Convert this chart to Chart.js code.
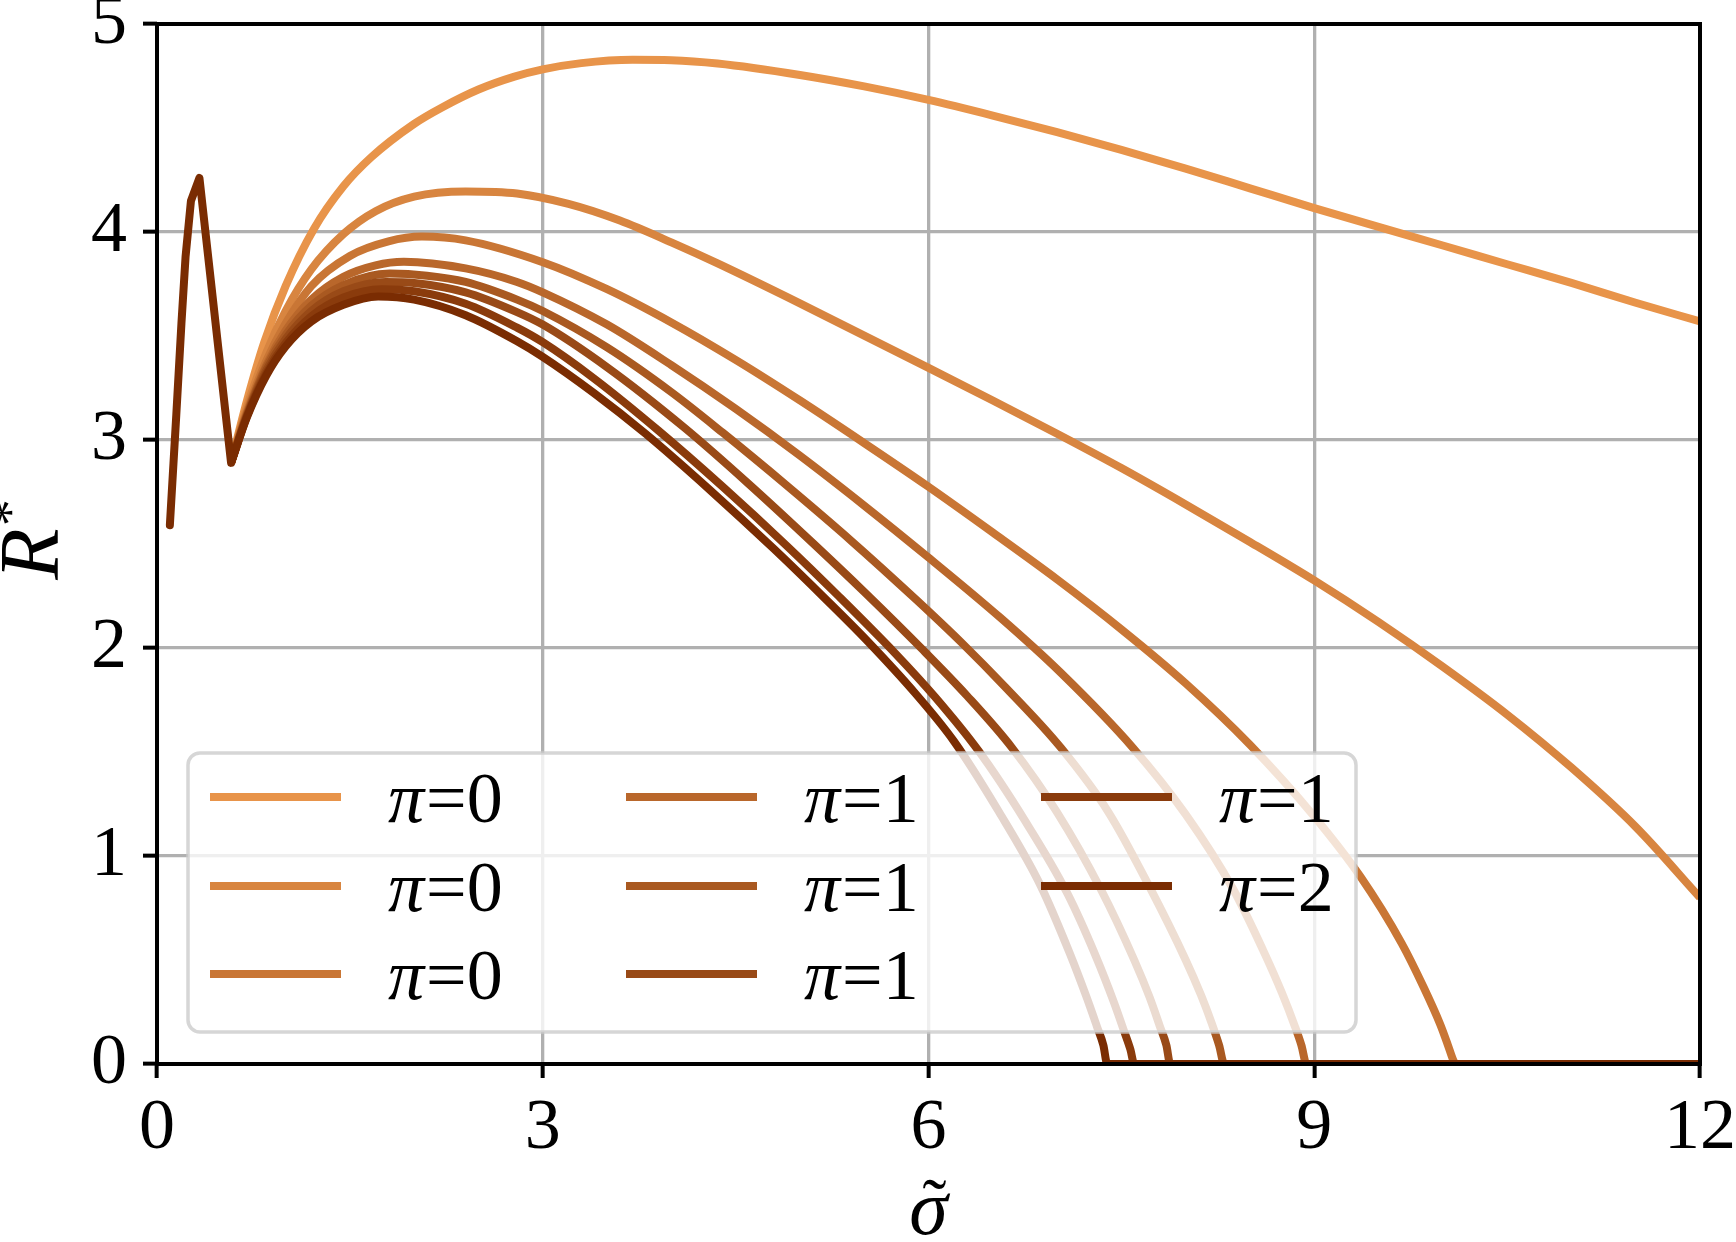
<!DOCTYPE html>
<html>
<head>
<meta charset="utf-8">
<script src="https://cdn.jsdelivr.net/npm/chart.js@4.4.0/dist/chart.umd.min.js"></script>
<style>
  html, body { margin: 0; padding: 0; background: #fff; }
</style>
</head>
<body>
<canvas id="rChart" width="1736" height="1242"></canvas>
<script>
// axis ticks
const sigmaTicks = [0, 3, 6, 9, 12];
const rTicks = [0, 1, 2, 3, 4, 5];

// legend labels, one per curve (light -> dark)
const curveLabels = ['π=0', 'π=0', 'π=0', 'π=1', 'π=1', 'π=1', 'π=1', 'π=2'];
const curveColors = ['#e8944a', '#d88540', '#c97635', '#b9672b', '#a95921', '#994a17', '#8a3b0c', '#7a2c02'];

// shared start of every curve (sigma, R*), same for all eight
const spike = [[0.1, 2.59], [0.15, 3.12], [0.19, 3.56], [0.222, 3.88], [0.264, 4.15], [0.33, 4.26], [0.576, 2.89]];

// rest of each curve (sigma, R*), starting at the bottom of the spike
const tail1 = [[0.576, 2.89], [0.7, 3.19], [0.834, 3.47], [1.0, 3.74], [1.22, 4.015], [1.45, 4.22], [1.667, 4.36], [2.0, 4.52],
  [2.22, 4.60], [2.5, 4.685], [2.78, 4.747], [3.0, 4.782], [3.3, 4.812], [3.7, 4.828], [4.0, 4.826], [4.36, 4.81], [5.0, 4.755],
  [5.5, 4.70], [6.0, 4.635], [6.5, 4.56], [7.0, 4.48], [7.5, 4.395], [8.0, 4.305], [8.5, 4.21], [9.0, 4.115], [9.5, 4.025],
  [10.0, 3.935], [10.5, 3.845], [11.0, 3.755], [11.5, 3.66], [12.0, 3.57]];
const tail2 = [[0.576, 2.89], [0.7, 3.16], [0.85, 3.42], [1.0, 3.62], [1.2, 3.82], [1.45, 3.99], [1.7, 4.10], [2.0, 4.17],
  [2.4, 4.195], [2.8, 4.185], [3.2, 4.135], [3.6, 4.055], [4.0, 3.95], [4.36, 3.849], [5.0, 3.657], [5.5, 3.502], [6.0, 3.347],
  [6.5, 3.19], [7.0, 3.03], [7.5, 2.865], [8.0, 2.69], [8.5, 2.51], [9.0, 2.325], [9.5, 2.125], [10.0, 1.91], [10.5, 1.68],
  [11.0, 1.425], [11.5, 1.14], [12.0, 0.80]];
const tail3 = [[0.576, 2.89], [0.7, 3.14], [0.85, 3.38], [1.0, 3.56], [1.2, 3.74], [1.5, 3.885], [1.8, 3.955], [2.06, 3.978],
  [2.4, 3.96], [3.0, 3.855], [3.5, 3.725], [4.0, 3.565], [4.5, 3.385], [5.0, 3.19], [5.5, 2.985], [6.0, 2.775], [6.5, 2.555],
  [7.0, 2.33], [7.5, 2.09], [8.0, 1.83], [8.5, 1.535], [9.0, 1.19], [9.36, 0.9], [9.68, 0.58], [9.85, 0.37], [9.98, 0.19],
  [10.04, 0.09], [10.08, 0.02], [10.1, 0], [12.0, 0]];
const tail4 = [[0.576, 2.89], [0.7, 3.13], [0.85, 3.36], [1.0, 3.525], [1.2, 3.675], [1.45, 3.785], [1.7, 3.84], [1.92, 3.857],
  [2.4, 3.825], [2.8, 3.76], [3.0, 3.71], [3.5, 3.555], [4.0, 3.36], [4.5, 3.15], [5.0, 2.925], [5.5, 2.685], [6.0, 2.435],
  [6.56, 2.145], [7.03, 1.88], [7.59, 1.52], [8.0, 1.2], [8.37, 0.84], [8.6, 0.55], [8.75, 0.34], [8.85, 0.18], [8.9, 0.09],
  [8.94, 0], [12.0, 0]];
const tail5 = [[0.576, 2.89], [0.7, 3.125], [0.85, 3.35], [1.0, 3.505], [1.2, 3.645], [1.45, 3.745], [1.81, 3.80], [2.1, 3.79],
  [2.4, 3.76], [2.8, 3.675], [3.0, 3.62], [3.5, 3.445], [4.0, 3.23], [4.4, 3.035], [4.9, 2.78], [5.4, 2.515], [5.9, 2.235],
  [6.25, 2.03], [6.6, 1.81], [7.03, 1.52], [7.4, 1.21], [7.72, 0.85], [8.0, 0.5], [8.12, 0.33], [8.2, 0.2], [8.26, 0.09],
  [8.3, 0], [12.0, 0]];
const tail6 = [[0.576, 2.89], [0.7, 3.12], [0.85, 3.335], [1.0, 3.485], [1.2, 3.62], [1.45, 3.715], [1.78, 3.76], [2.0, 3.755],
  [2.4, 3.71], [2.8, 3.615], [3.0, 3.555], [3.5, 3.35], [4.1, 3.06], [4.6, 2.79], [5.1, 2.505], [5.5, 2.27], [5.95, 1.995],
  [6.3, 1.77], [6.65, 1.52], [7.0, 1.21], [7.34, 0.84], [7.6, 0.5], [7.72, 0.32], [7.8, 0.18], [7.85, 0.09], [7.88, 0],
  [12.0, 0]];
const tail7 = [[0.576, 2.89], [0.7, 3.115], [0.85, 3.32], [1.0, 3.465], [1.2, 3.595], [1.45, 3.685], [1.75, 3.725], [2.0, 3.715],
  [2.4, 3.655], [2.8, 3.54], [3.0, 3.47], [3.4, 3.295], [3.9, 3.045], [4.4, 2.775], [4.9, 2.49], [5.3, 2.25], [5.74, 1.975],
  [6.05, 1.765], [6.39, 1.505], [6.75, 1.17], [7.08, 0.82], [7.3, 0.52], [7.44, 0.3], [7.52, 0.16], [7.57, 0.07], [7.6, 0],
  [12.0, 0]];
const tail8 = [[0.576, 2.89], [0.7, 3.11], [0.85, 3.31], [1.0, 3.45], [1.2, 3.57], [1.45, 3.65], [1.72, 3.69], [2.0, 3.675],
  [2.4, 3.60], [2.8, 3.475], [3.0, 3.40], [3.4, 3.225], [3.8, 3.03], [4.3, 2.76], [4.8, 2.475], [5.2, 2.235], [5.53, 2.03],
  [5.9, 1.78], [6.2, 1.55], [6.55, 1.21], [6.87, 0.86], [7.1, 0.53], [7.23, 0.32], [7.31, 0.18], [7.36, 0.09], [7.39, 0],
  [12.0, 0]];

const tails = [tail1, tail2, tail3, tail4, tail5, tail6, tail7, tail8];

const SERIF = '"Liberation Serif", "DejaVu Serif", serif';
const LINE_W = 8;

// frame on top of the curves, then axis titles and the legend box
const overlay = {
  id: 'overlay',
  afterDatasetsDraw(chart) {
    const { ctx, chartArea: a } = chart;
    ctx.save();
    ctx.strokeStyle = '#000';
    ctx.lineWidth = 4;
    ctx.strokeRect(a.left, a.top, a.right - a.left, a.bottom - a.top);

    // legend
    const box = { x: 188, y: 753, w: 1168, h: 279, r: 12 };
    ctx.beginPath();
    ctx.roundRect(box.x, box.y, box.w, box.h, box.r);
    ctx.fillStyle = 'rgba(255,255,255,0.8)';
    ctx.fill();
    ctx.lineWidth = 3.5;
    ctx.strokeStyle = 'rgba(204,204,204,0.8)';
    ctx.stroke();

    const colX = [210, 626, 1041];
    const rowY = [797, 886, 974];
    curveLabels.forEach((lab, i) => {
      const col = Math.floor(i / 3), row = i % 3;
      const x = colX[col], y = rowY[row];
      ctx.strokeStyle = curveColors[i];
      ctx.lineWidth = LINE_W;
      ctx.lineCap = 'butt';
      ctx.beginPath();
      ctx.moveTo(x, y);
      ctx.lineTo(x + 131, y);
      ctx.stroke();
      const [sym, val] = lab.split('=');
      ctx.fillStyle = '#000';
      ctx.textBaseline = 'alphabetic';
      ctx.textAlign = 'left';
      ctx.font = 'italic 72px ' + SERIF;
      const tx = x + 178;
      ctx.fillText(sym, tx, y + 25);
      const w = ctx.measureText(sym).width;
      ctx.font = '72px ' + SERIF;
      ctx.fillText('=' + val, tx + w + 2, y + 25);
    });

    // x title: sigma with tilde
    ctx.fillStyle = '#000';
    ctx.textAlign = 'center';
    ctx.font = 'italic 78px ' + SERIF;
    ctx.fillText('σ', (a.left + a.right) / 2, 1234);
    ctx.font = '72px ' + SERIF;
    ctx.fillText('˜', (a.left + a.right) / 2 + 6, 1228);

    // y title: R*
    ctx.translate(58, (a.top + a.bottom) / 2);
    ctx.rotate(-Math.PI / 2);
    ctx.textAlign = 'left';
    ctx.font = 'italic 84px ' + SERIF;
    const rw = ctx.measureText('R').width;
    ctx.fillText('R', -rw / 2 - 10, 0);
    ctx.font = '54px ' + SERIF;
    ctx.fillText('*', rw / 2 - 8, -30);
    ctx.restore();
  }
};

const ctx = document.getElementById('rChart').getContext('2d');

const curveSets = tails.map((t, i) => ({
  label: curveLabels[i],
  data: t.map(([x, y]) => ({ x, y })),
  borderColor: curveColors[i],
  borderWidth: LINE_W,
  pointRadius: 0,
  cubicInterpolationMode: 'monotone',
  fill: false,
  borderJoinStyle: 'round',
  borderCapStyle: 'butt',
  order: tails.length - i + 1
}));

// the common spike, drawn straight (all curves coincide here, darkest on top)
const spikeSet = {
  label: 'spike',
  data: spike.map(([x, y]) => ({ x, y })),
  borderColor: curveColors[curveColors.length - 1],
  borderWidth: LINE_W,
  pointRadius: 0,
  tension: 0,
  fill: false,
  borderJoinStyle: 'round',
  borderCapStyle: 'round',
  order: 0
};

new Chart(ctx, {
  type: 'line',
  data: { datasets: curveSets.concat([spikeSet]) },
  options: {
    responsive: false,
    animation: false,
    events: [],
    layout: { padding: { left: 0, top: 24, right: 36, bottom: 0 } },
    plugins: { legend: { display: false }, tooltip: { enabled: false } },
    scales: {
      x: {
        type: 'linear',
        min: 0,
        max: 12,
        afterBuildTicks: s => { s.ticks = sigmaTicks.map(v => ({ value: v })); },
        afterFit: s => { s.height = 178; s.paddingLeft = 0; s.paddingRight = 0; },
        ticks: { color: '#000', font: { family: SERIF, size: 72 }, padding: 8, maxRotation: 0, autoSkip: false },
        grid: { color: '#b0b0b0', lineWidth: 3.3, tickLength: 14, tickColor: '#000', tickWidth: 4 },
        border: { display: false }
      },
      y: {
        type: 'linear',
        min: 0,
        max: 5,
        afterBuildTicks: s => { s.ticks = rTicks.map(v => ({ value: v })); },
        afterFit: s => { s.width = 157; s.paddingTop = 0; s.paddingBottom = 0; },
        ticks: { color: '#000', font: { family: SERIF, size: 72 }, padding: 16, autoSkip: false },
        grid: { color: '#b0b0b0', lineWidth: 3.3, tickLength: 14, tickColor: '#000', tickWidth: 4 },
        border: { display: false }
      }
    }
  },
  plugins: [overlay]
});
</script>
</body>
</html>
